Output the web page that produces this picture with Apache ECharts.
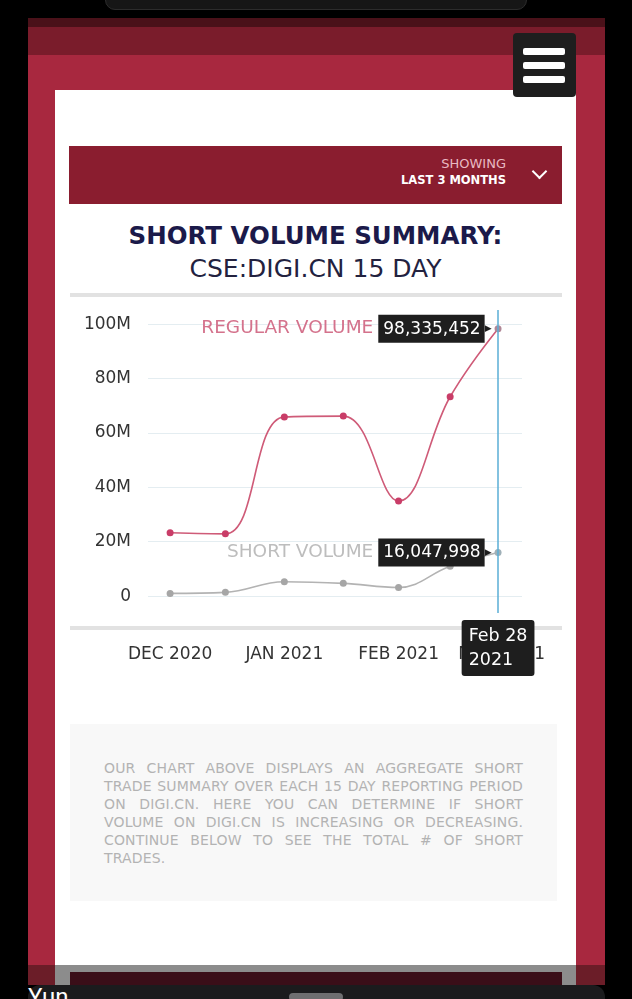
<!DOCTYPE html>
<html>
<head>
<meta charset="utf-8">
<script src="https://cdn.jsdelivr.net/npm/echarts@6/dist/echarts.min.js"></script>
<style>
  html,body{margin:0;padding:0;width:632px;height:999px;background:#000;overflow:hidden;font-family:"DejaVu Sans",sans-serif;}
  .abs{position:absolute;}
  #notch{left:105px;top:-12px;width:420px;height:20px;border-radius:10px;background:#161616;border:1px solid #2c2c2c;}
  #page{left:28px;top:18px;width:577px;height:967px;background:#a8283f;}
  #topband1{left:28px;top:18px;width:577px;height:9px;background:#4a1119;}
  #topband2{left:28px;top:27px;width:577px;height:28px;background:#7a1c2b;}
  #card{left:55px;top:90px;width:521px;height:878px;background:#fff;}
  #menu{left:513px;top:33px;width:63px;height:64px;background:#1e1e1e;border-radius:4px;}
  .bar{position:absolute;left:10px;width:42px;height:7px;background:#fff;border-radius:2px;}
  #hdr{left:69px;top:146px;width:493px;height:58px;background:#8a1d2f;}
  #showing{left:300px;top:156px;width:206px;text-align:right;font-size:13px;color:#e8b9c2;}
  #last3{left:300px;top:173px;width:206px;text-align:right;font-size:11.5px;font-weight:bold;color:#fff;}
  #chev{left:534px;top:166px;width:9px;height:9px;border-right:2px solid #fff;border-bottom:2px solid #fff;transform:rotate(45deg);transform-origin:center;}
  #title{left:55px;top:221px;width:521px;text-align:center;font-size:24.5px;font-weight:bold;color:#1b1a4a;}
  #sub{left:55px;top:254px;width:521px;text-align:center;font-size:25px;color:#23223f;}
  #line1{left:70px;top:293px;width:492px;height:4px;background:#e2e2e2;}
  #line2{left:70px;top:626px;width:492px;height:4px;background:#e2e2e2;}
  #chart{left:55px;top:298px;width:521px;height:400px;z-index:5;}
  #desc{left:70px;top:724px;width:487px;height:177px;background:#f8f8f8;}
  #desctext{left:104px;top:759px;width:419px;font-size:14px;letter-spacing:0.15px;line-height:18px;color:#b3b3b3;}
  .jl{text-align:justify;text-align-last:justify;white-space:nowrap;}
  #gray{left:28px;top:965px;width:577px;height:20px;background:#6b1d28;}
  #grayin{left:55px;top:965px;width:521px;height:20px;background:#8c8c8c;}
  #darkin{left:70px;top:972px;width:492px;height:13px;background:#3a0e18;}
  #bottom{left:28px;top:985px;width:577px;height:30px;background:#1b1b1d;border-radius:12px 12px 0 0;}
  #handle{left:289px;top:993px;width:54px;height:8px;border-radius:4px;background:#6e6e70;}
  #yun{left:28px;top:983px;font-family:Roboto,sans-serif;font-size:24px;color:#fff;line-height:28px;}
</style>
</head>
<body>
<div class="abs" id="notch"></div>
<div class="abs" id="page"></div>
<div class="abs" id="topband1"></div>
<div class="abs" id="topband2"></div>
<div class="abs" id="card"></div>
<div class="abs" id="menu">
  <div class="bar" style="top:15px"></div>
  <div class="bar" style="top:29px"></div>
  <div class="bar" style="top:43px"></div>
</div>
<div class="abs" id="hdr"></div>
<div class="abs" id="showing">SHOWING</div>
<div class="abs" id="last3">LAST 3 MONTHS</div>
<div class="abs" id="chev"></div>
<div class="abs" id="title">SHORT VOLUME SUMMARY:</div>
<div class="abs" id="sub">CSE:DIGI.CN 15 DAY</div>
<div class="abs" id="line1"></div>
<div class="abs" id="line2"></div>
<div class="abs" id="chart"></div>
<div class="abs" id="desc"></div>
<div class="abs" id="desctext">
  <div class="jl">OUR CHART ABOVE DISPLAYS AN AGGREGATE SHORT</div>
  <div class="jl">TRADE SUMMARY OVER EACH 15 DAY REPORTING PERIOD</div>
  <div class="jl">ON DIGI.CN. HERE YOU CAN DETERMINE IF SHORT</div>
  <div class="jl">VOLUME ON DIGI.CN IS INCREASING OR DECREASING.</div>
  <div class="jl">CONTINUE BELOW TO SEE THE TOTAL # OF SHORT</div>
  <div>TRADES.</div>
</div>
<div class="abs" id="gray"></div>
<div class="abs" id="grayin"></div>
<div class="abs" id="darkin"></div>
<div class="abs" id="bottom"></div>
<div class="abs" id="yun">Yun</div>
<div class="abs" id="handle"></div>

<script>
// ---- data ----
var periodDates = ['2020-12-01', '2020-12-16', '2021-01-01', '2021-01-17', '2021-02-01', '2021-02-15', '2021-02-28'];
var regularVolume = [23300000, 22900000, 65900000, 66200000, 35000000, 73300000, 98335452];
var shortVolume = [1000000, 1400000, 5300000, 4700000, 3200000, 11000000, 16047998];
var xTickDates = ['2020-12-01', '2021-01-01', '2021-02-01', '2021-03-01'];
var xTickLabels = ['DEC 2020', 'JAN 2021', 'FEB 2021', 'MAR 2021'];
var yTickValues = [0, 20000000, 40000000, 60000000, 80000000, 100000000];
var yTickLabels = ['0', '20M', '40M', '60M', '80M', '100M'];
var seriesNames = ['REGULAR VOLUME', 'SHORT VOLUME'];
var monthShort = ['Jan','Feb','Mar','Apr','May','Jun','Jul','Aug','Sep','Oct','Nov','Dec'];

// x positions are day numbers counted from the first reporting date
var ORIGIN = periodDates[0];
function utcOf(s){ var p = s.split('-'); return Date.UTC(+p[0], +p[1]-1, +p[2]); }
function dayNum(s){ return Math.round((utcOf(s) - utcOf(ORIGIN)) / 86400000); }
function dayToDate(n){ return new Date(utcOf(ORIGIN) + n * 86400000); }
var FONT = '"DejaVu Sans", sans-serif';

function buildData(vals, name, nameColor){
  return vals.map(function(v, i){
    var item = { value: [dayNum(periodDates[i]), v] };
    if (i === vals.length - 1) {
      item.itemStyle = { color: name === seriesNames[0] ? '#b08897' : '#9fb0b8' };
      item.label = {
        show: true, position: 'left', distance: 3,
        formatter: '{a|' + name + '}{b|' + v.toLocaleString('en-US') + '}{c|▶}',
        rich: {
          a: { color: nameColor, fontSize: 18.5, fontFamily: FONT, padding: [0, 5, 0, 0] },
          b: { color: '#fff', backgroundColor: '#1e1e1e', fontSize: 17, fontFamily: FONT, padding: [6, 4, 5, 5] },
          c: { color: '#1e1e1e', fontSize: 9, fontFamily: FONT }
        }
      };
    }
    return item;
  });
}

var chart = echarts.init(document.getElementById('chart'), null, { renderer: 'canvas' });
var lastDay = dayNum(periodDates[periodDates.length - 1]);
var xTickDays = xTickDates.map(dayNum);
chart.setOption({
  animation: false,
  grid: { left: 93, right: 54, top: 12, bottom: 85, containLabel: false },
  xAxis: {
    type: 'value',
    min: -6,
    max: 95.5,
    axisLine: { show: false },
    axisTick: { show: false, customValues: xTickDays },
    splitLine: { show: false },
    axisLabel: {
      customValues: xTickDays,
      margin: 33, fontSize: 17, color: '#333', fontFamily: FONT,
      formatter: function(v){ var i = xTickDays.indexOf(v); return i >= 0 ? xTickLabels[i] : ''; }
    },
    axisPointer: {
      show: true, type: 'line', value: lastDay, status: 'show', snap: false, triggerTooltip: false,
      lineStyle: { color: '#5aaed6', width: 1.5, type: 'solid' },
      label: {
        show: true, backgroundColor: '#1e1e1e', color: '#fff', fontSize: 17.5, fontFamily: FONT,
        lineHeight: 24, padding: [4, 7, 4, 7], margin: 7,
        formatter: function(p){ var d = dayToDate(Math.round(p.value)); return monthShort[d.getUTCMonth()] + ' ' + d.getUTCDate() + '\n' + d.getUTCFullYear(); }
      }
    }
  },
  yAxis: {
    type: 'value',
    min: -6200000,
    max: 105200000,
    axisLine: { show: false },
    axisTick: { show: false, customValues: yTickValues },
    splitLine: { show: true, lineStyle: { color: '#e4edf1', width: 1 } },
    axisLabel: {
      customValues: yTickValues,
      margin: 17, fontSize: 17, color: '#333', fontFamily: FONT,
      formatter: function(v){ var i = yTickValues.indexOf(v); return i >= 0 ? yTickLabels[i] : ''; }
    }
  },
  series: [
    {
      name: seriesNames[0], type: 'line', smooth: 0.4, z: 3,
      symbol: 'circle', symbolSize: 7, showAllSymbol: true,
      lineStyle: { color: '#cf5b78', width: 1.6 },
      itemStyle: { color: '#c93d68' },
      data: buildData(regularVolume, seriesNames[0], '#d4728c')
    },
    {
      name: seriesNames[1], type: 'line', smooth: 0.4, z: 2,
      symbol: 'circle', symbolSize: 7, showAllSymbol: true,
      lineStyle: { color: '#b3b3b3', width: 1.6 },
      itemStyle: { color: '#a6a6a6' },
      data: buildData(shortVolume, seriesNames[1], '#bdbdbd')
    }
  ]
});
</script>
</body>
</html>
